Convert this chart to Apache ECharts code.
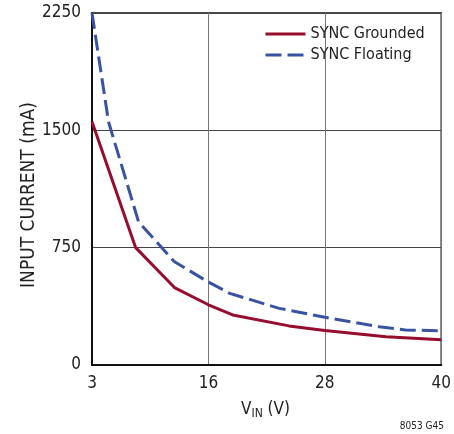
<!DOCTYPE html>
<html><head><meta charset="utf-8">
<script src="https://cdn.jsdelivr.net/npm/echarts@6/dist/echarts.min.js"></script>
<style>html,body{margin:0;padding:0;background:#fff}#c{width:454px;height:434px}</style>
</head><body><div id="c"></div>
<script>
// x positions are in axis units (axis spans 4..40, leftmost tick labelled "3")
const groundedX = [4, 5.2, 8.5, 12.5, 16, 18.5, 24.3, 28, 34.3, 40];
const groundedY = [1555, 1340, 750, 495, 385, 320, 250, 220, 180, 162];
const floatingX = [4, 5.7, 8.8, 12.5, 16, 18.2, 23.3, 28, 33.6, 36.3, 40];
const floatingY = [2250, 1555, 915, 660, 530, 458, 362, 305, 245, 224, 219];
const xTickLabels = {4: '3', 16: '16', 28: '28', 40: '40'};
const yTicks = [0, 750, 1500, 2250];
const seriesNames = ['SYNC Grounded', 'SYNC Floating'];

const FONT = '"DejaVu Sans Condensed","Liberation Sans Narrow","Liberation Sans",sans-serif';
const RED = '#970d2f', BLUE = '#3953a4';
const zip = (xs, ys) => xs.map((x, i) => [x, ys[i]]);

const chart = echarts.init(document.getElementById('c'), null, {renderer: 'canvas'});
chart.setOption({
  animation: false,
  backgroundColor: '#fff',
  grid: {left: 92, top: 13, right: 11, bottom: 69, containLabel: false,
         show: true, borderColor: '#111', borderWidth: 1.5},
  legend: {
    orient: 'vertical', left: 259, top: 21, itemWidth: 40, itemHeight: 14, itemGap: 5,
    itemStyle: {opacity: 0}, lineStyle: {width: 3},
    textStyle: {fontFamily: FONT, fontSize: 16, color: '#222'},
    data: seriesNames
  },
  xAxis: {
    type: 'value', min: 4, max: 40, interval: 12,
    axisLine: {show: true, lineStyle: {color: '#111', width: 2}},
    axisTick: {show: false},
    splitLine: {show: true, lineStyle: {color: '#777', width: 1}},
    axisLabel: {fontFamily: FONT, fontSize: 17, color: '#222', margin: 10,
                formatter: v => xTickLabels[v] !== undefined ? xTickLabels[v] : ''}
  },
  yAxis: {
    type: 'value', min: 0, max: 2250, interval: 750,
    axisLine: {show: true, lineStyle: {color: '#111', width: 2}},
    axisTick: {show: false},
    splitLine: {show: true, lineStyle: {color: '#444', width: 1}},
    axisLabel: {fontFamily: FONT, fontSize: 17, color: '#222', margin: 11,
                formatter: v => yTicks.includes(v) ? String(v) : ''}
  },
  graphic: [
    {type: 'text', x: 29, y: 195, rotation: Math.PI / 2, style: {
      text: 'INPUT CURRENT (mA)', fontFamily: FONT, fontSize: 19, fill: '#222',
      align: 'center', verticalAlign: 'middle'}},
    {type: 'text', left: 241, top: 401, style: {
      text: '{v|V}{s|IN}{v| (V)}', fontFamily: FONT,
      rich: {v: {fontFamily: FONT, fontSize: 17, fill: '#222'},
             s: {fontFamily: FONT, fontSize: 12, fill: '#222', padding: [9, 0, 0, 0]}}}},
    {type: 'text', right: 10, top: 421, style: {
      text: '8053 G45', fontFamily: FONT, fontSize: 10, fill: '#222'}}
  ],
  series: [
    {name: seriesNames[0], type: 'line', data: zip(groundedX, groundedY), symbol: 'none',
     lineStyle: {color: RED, width: 3}, itemStyle: {color: RED}},
    {name: seriesNames[1], type: 'line', data: zip(floatingX, floatingY), symbol: 'none',
     lineStyle: {color: BLUE, width: 3, type: [16, 6]}, itemStyle: {color: BLUE}}
  ]
});
</script></body></html>
